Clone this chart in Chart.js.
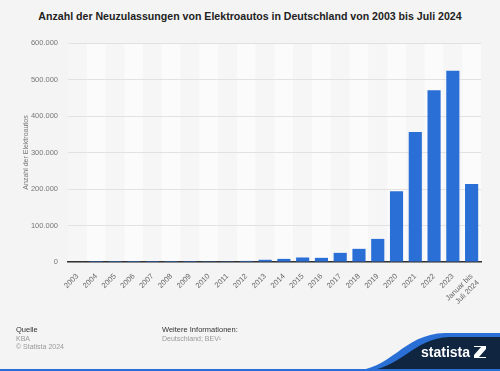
<!DOCTYPE html>
<html>
<head>
<meta charset="utf-8">
<script src="https://cdn.jsdelivr.net/npm/chart.js@4/dist/chart.umd.min.js"></script>
<style>
    html, body { margin: 0; padding: 0; }
    body { width: 500px; height: 371px; background: #f4f4f4; position: relative; overflow: hidden; font-family: "Liberation Sans", Arial, sans-serif; }
    #title { position: absolute; top: 10px; left: 0; width: 500px; text-align: center; font-size: 10.6px; font-weight: bold; color: #222; }
    #myChart { position: absolute; left: 0; top: 0; }
    .foot { position: absolute; font-size: 7px; line-height: 8.5px; color: #999; }
    .foot b { font-weight: normal; color: #333; font-size: 7.5px; }
    #logo { position: absolute; left: 0; top: 0; }
</style>
</head>
<body>
<div id="title">Anzahl der Neuzulassungen von Elektroautos in Deutschland von 2003 bis Juli 2024</div>
<canvas id="myChart" width="500" height="371"></canvas>
<div class="foot" style="left:16px; top:326px;"><b>Quelle</b><br>KBA<br>© Statista 2024</div>
<div class="foot" style="left:162px; top:326px;"><b>Weitere Informationen:</b><br>Deutschland; BEV¹</div>
<svg id="logo" width="500" height="371">
    <path d="M 350 371 C 392 371, 402 334, 445 333 L 500 333 L 500 371 Z" fill="#2a6fd6"/>
    <path d="M 362 371 C 400 371, 412 338, 450 337 L 500 337 L 500 371 Z" fill="#0f2540"/>
    <rect x="0" y="369" width="500" height="2" fill="#2a6fd6"/>
    <text x="421" y="357" font-family="Liberation Sans, Arial, sans-serif" font-weight="bold" font-size="14" fill="#fff">statista</text>
    <path d="M 474 346 L 486 346 L 486 349 L 479 357 L 486 357 L 486 358 L 474 358 L 474 355 L 481 347 L 474 347 Z" fill="#fff"/>
</svg>
<script>
    const categories = ['2003', '2004', '2005', '2006', '2007', '2008', '2009', '2010', '2011',
        '2012', '2013', '2014', '2015', '2016', '2017', '2018', '2019', '2020', '2021', '2022', '2023',
        ['Januar bis', 'Juli 2024']];
    const registrations = [0, 61, 47, 19, 8, 36, 162, 541, 2154,
        2956, 6051, 8522, 12363, 11410, 25056, 36062, 63281, 194163, 355961, 470559, 524219, 214000];
    const yTicks = [0, 100000, 200000, 300000, 400000, 500000, 600000];

    function formatDe(v) {
        return v.toString().replace(/\B(?=(\d{3})+(?!\d))/g, '.');
    }

    // alternating column bands behind the bars
    const stripes = {
        id: 'stripes',
        beforeDraw(chart) {
            const ctx = chart.ctx;
            const area = chart.chartArea;
            const x = chart.scales.x;
            const w = x.getPixelForValue(1) - x.getPixelForValue(0);
            ctx.save();
            categories.forEach((c, i) => {
                ctx.fillStyle = i % 2 ? '#fbfbfb' : '#f6f6f6';
                ctx.fillRect(x.getPixelForValue(i) - w / 2, area.top, w, area.bottom - area.top);
            });
            ctx.restore();
        }
    };

    const ctx = document.getElementById('myChart').getContext('2d');
    new Chart(ctx, {
        type: 'bar',
        data: {
            labels: categories,
            datasets: [{
                data: registrations,
                backgroundColor: '#2a6fd6',
                barPercentage: 0.7,
                categoryPercentage: 1
            }]
        },
        options: {
            responsive: false,
            animation: false,
            layout: { padding: { top: 43, left: 14, right: 19, bottom: 60 } },
            plugins: {
                legend: { display: false },
                tooltip: { enabled: false }
            },
            scales: {
                x: {
                    grid: { display: false },
                    border: { display: true, color: '#333', width: 1.5 },
                    ticks: {
                        color: '#666',
                        font: { family: 'Liberation Sans', size: 7.5 },
                        minRotation: 45,
                        maxRotation: 45,
                        autoSkip: false,
                        padding: 2
                    },
                    afterFit(scale) { scale.height = 49; }
                },
                y: {
                    min: 0,
                    max: 600000,
                    afterBuildTicks(scale) { scale.ticks = yTicks.map(v => ({ value: v })); },
                    grid: { color: '#e2e2e2', drawTicks: false },
                    border: { display: false },
                    ticks: {
                        color: '#777',
                        font: { family: 'Liberation Sans', size: 7.5 },
                        padding: 10,
                        callback: (v) => formatDe(v)
                    },
                    title: {
                        display: true,
                        text: 'Anzahl der Elektroautos',
                        color: '#777',
                        font: { family: 'Liberation Sans', size: 7 },
                        padding: { top: 8, bottom: 0 }
                    },
                    afterFit(scale) { scale.width = 54; }
                }
            }
        },
        plugins: [stripes]
    });
</script>
</body>
</html>
